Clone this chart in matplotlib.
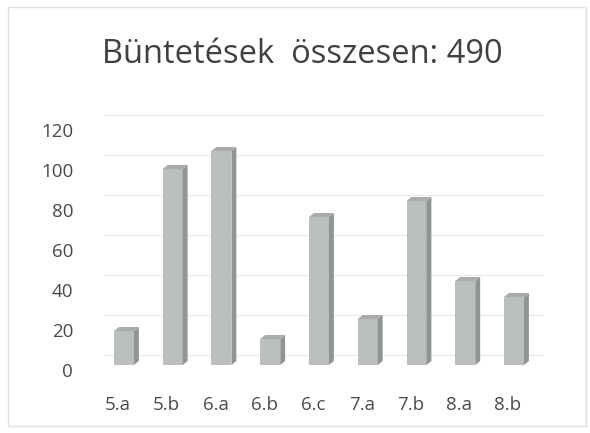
import matplotlib
matplotlib.use("Agg")
import matplotlib.pyplot as plt
from matplotlib.patches import Polygon, Rectangle
from matplotlib.transforms import ScaledTranslation

categories = ["5.a", "5.b", "6.a", "6.b", "6.c", "7.a", "7.b", "8.a", "8.b"]
values = [17, 98, 107, 13, 74, 23, 82, 42, 34]
yticks = [0, 20, 40, 60, 80, 100, 120]
title = "Büntetések  összesen: 490"

W, H = 590, 433
plt.rcParams["font.family"] = ["Open Sans", "DejaVu Sans"]
fig = plt.figure(figsize=(W / 100, H / 100), dpi=100)
fig.patch.set_facecolor("white")

# chart border
fig.patches.append(Rectangle((8 / W, 7 / H), (586 - 8) / W, (426 - 7) / H,
                             transform=fig.transFigure, fill=False,
                             edgecolor="#e0e0e0", linewidth=1.0))

ax = fig.add_axes([99.6 / W, 68 / H, 438.8 / W, 240 / H])
ax.set_xlim(-0.5, len(categories) - 0.5)
ax.set_ylim(0, 120)
for s in ax.spines.values():
    s.set_visible(False)

# back-wall gridlines (shifted up/right for 3D look)
grid_off = ScaledTranslation(0.05, 0.10, fig.dpi_scale_trans)
for t in yticks:
    ax.plot([-0.5, len(categories) - 0.5], [t, t], color="#ebebeb", lw=1.0,
            transform=ax.transData + grid_off, zorder=0, clip_on=False)

bw = 0.41
dx = 0.10   # depth in data units (x)
dy = 2.0    # depth in data units (y)
front = "#babebc"
side = "#909492"
top = "#a8acaa"
xs = list(range(len(categories)))
ax.bar(xs, values, width=bw, color=front, edgecolor="none", zorder=3)
for x, v in zip(xs, values):
    l, r = x - bw / 2, x + bw / 2
    ax.add_patch(Polygon([(r, 0), (r + dx, dy), (r + dx, v + dy), (r, v)],
                         closed=True, facecolor=side, edgecolor="none",
                         zorder=3, clip_on=False))
    ax.add_patch(Polygon([(l, v), (l + dx, v + dy), (r + dx, v + dy), (r, v)],
                         closed=True, facecolor=top, edgecolor="none",
                         zorder=3, clip_on=False))

ax.set_yticks(yticks)
ax.set_yticklabels([str(t) for t in yticks], fontsize=13.5, color="#4a4a4a")
ax.set_xticks(xs)
ax.set_xticklabels(categories, fontsize=13.5, color="#4a4a4a")
ax.tick_params(axis="both", length=0)
ax.tick_params(axis="y", pad=19)
ax.tick_params(axis="x", pad=22.5)
for lab in ax.get_xticklabels():
    lab.set_transform(lab.get_transform() + ScaledTranslation(-0.06, 0, fig.dpi_scale_trans))
for lab in ax.get_yticklabels():
    lab.set_transform(lab.get_transform() + ScaledTranslation(0, -0.05, fig.dpi_scale_trans))

fig.text(302.5 / W, 1 - 63 / H, title, ha="center", va="baseline",
         fontsize=23.5, color="#404040")

fig.savefig("out.png", dpi=100, facecolor="white")
